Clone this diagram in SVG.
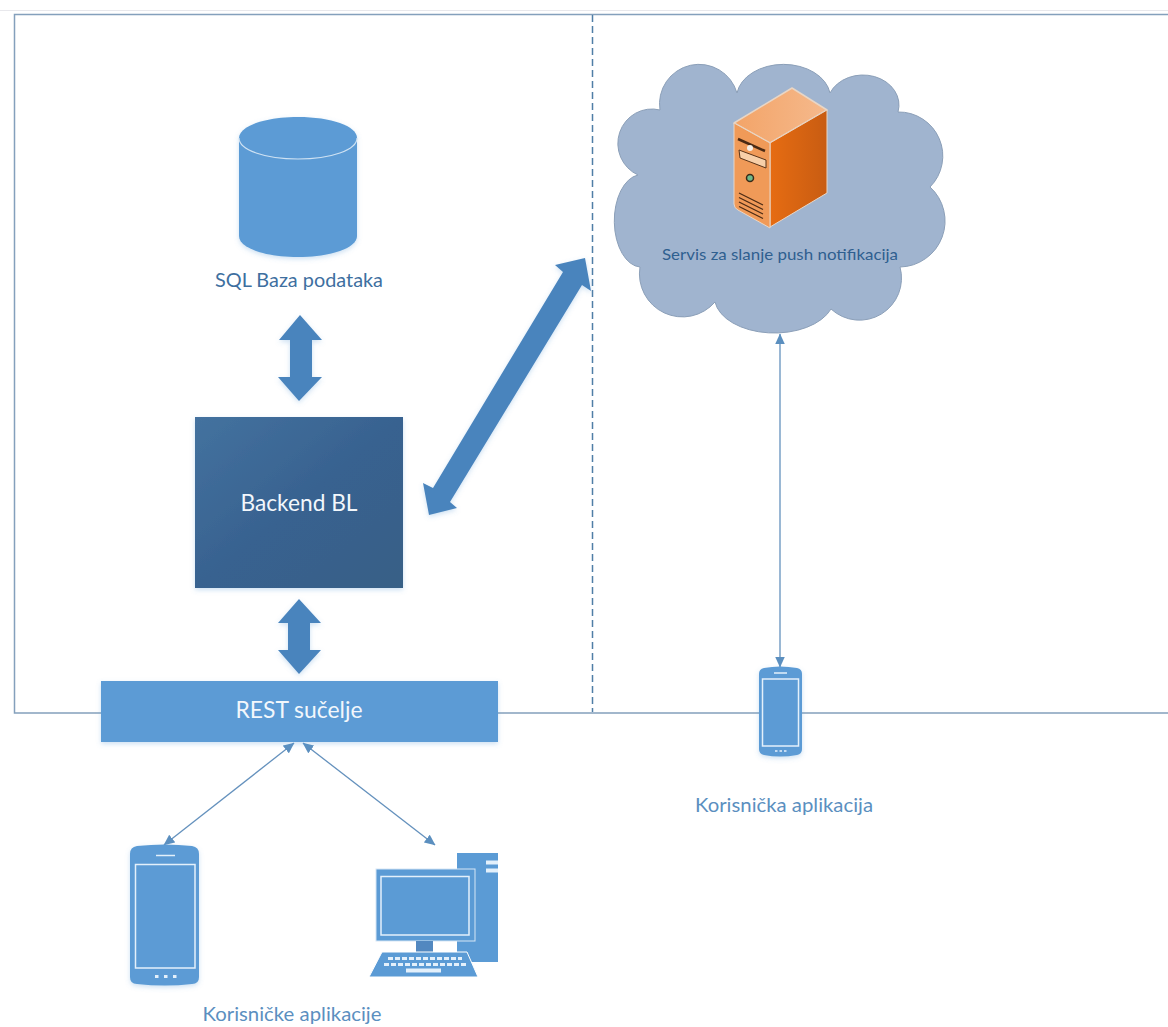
<svg xmlns="http://www.w3.org/2000/svg" width="1168" height="1027" viewBox="0 0 1168 1027">
<defs>
<style>
text{font-family:"Lato","Noto Sans","Liberation Sans",sans-serif;text-anchor:middle}
.lbl{fill:#5b8fbf;font-size:19px}
.wh{fill:#f2f7fc;font-size:23px}
.dev{fill:#5b9bd5}
.ln{fill:none;stroke:#e3f0fb;stroke-width:1.5}
.thin{stroke:#6491bd;stroke-width:1.3;fill:none;marker-start:url(#ah);marker-end:url(#ah)}
.big{fill:#4a84bd;filter:url(#sh)}
</style>
<marker id="ah" viewBox="0 0 10 10" refX="9.5" refY="5" markerWidth="11" markerHeight="11" markerUnits="userSpaceOnUse" orient="auto-start-reverse"><path d="M0,0.5L10,5L0,9.5z" fill="#5b8fbf"/></marker>
<linearGradient id="bl" x1="0" y1="0" x2="1" y2="1"><stop offset="0" stop-color="#44729f"/><stop offset="0.5" stop-color="#386290"/><stop offset="1" stop-color="#386086"/></linearGradient>
<linearGradient id="rf" x1="0" y1="0" x2="1" y2="0"><stop offset="0" stop-color="#e66c12"/><stop offset="1" stop-color="#c85c12"/></linearGradient>
<linearGradient id="tf" x1="0" y1="0" x2="1" y2="0"><stop offset="0" stop-color="#f3a468"/><stop offset="1" stop-color="#f5b98c"/></linearGradient>
<filter id="sh" x="-15%" y="-15%" width="130%" height="130%"><feDropShadow dx="0" dy="2" stdDeviation="2.5" flood-color="#5b9bd5" flood-opacity="0.3"/></filter>
</defs>
<rect width="1168" height="1027" fill="#fff"/>
<path d="M0,10.500H1168" stroke="#e8e8ec" stroke-width="1"/>
<g id="frame">
<path d="M1168,14.500H14.500V713H1168" fill="none" stroke="#84a0bc" stroke-width="1.500"/>
<path d="M592.500,15V712" fill="none" stroke="#4f7ea6" stroke-width="1.500" stroke-dasharray="7 4"/>
</g>
<g id="connectors">
<path class="thin" d="M780,334V667"/>
<path class="thin" d="M294,743L164,845"/>
<path class="thin" d="M303,743L435,845"/>
<polygon class="big" points="300,315 322,340 312,340 312,377 322,377 299,401 278,377 290,377 290,340 279,340"/>
<polygon class="big" points="299,599 321,623 310,623 310,650 321,650 299,674 278,650 288,650 288,623 278,623"/>
<polygon class="big" points="585,258 591,291 582,285 450,502 457,508 429,515 423,483 433,488 563,272 555,265"/>
</g>
<g id="db">
<path d="M239,138C239,126 265,117 298,117C331,117 357,126 357,138V236C357,248 331,257 298,257C265,257 239,248 239,236z" fill="#5b9bd5" filter="url(#sh)"/>
<path d="M239,138C239,150 265,159 298,159C331,159 357,150 357,138" fill="none" stroke="#cfe2f3" stroke-width="1.200"/>
<text x="299" y="287" style="fill:#3e6f9f;font-size:19px" textLength="168" lengthAdjust="spacingAndGlyphs">SQL Baza podataka</text>
</g>
<g id="backend">
<rect x="195" y="417" width="208" height="171" fill="url(#bl)" filter="url(#sh)"/>
<text x="299" y="511" class="wh" textLength="117" lengthAdjust="spacingAndGlyphs">Backend BL</text>
</g>
<g id="rest">
<rect x="101" y="681" width="397" height="61" fill="#5b9bd5" filter="url(#sh)"/>
<text x="299" y="718" class="wh" textLength="127" lengthAdjust="spacingAndGlyphs">REST sučelje</text>
</g>
<g id="cloud">
<path d="M737,93A47,33.500 0 0 1 830,93A36,30 0 0 1 898,112A44,44 0 0 1 930,187A46,46 0 0 1 900,267A42,42 0 0 1 831,309A60,36 0 0 1 715,302A43,43 0 0 1 640,267A27,46.200 0 0 1 638,175A34,34.500 0 0 1 660,110A39.500,39.500 0 0 1 737,93z" fill="#a0b4cf" stroke="#8b9fb8" stroke-width="1"/>
<polygon points="734,123 792,88 827,110 770,143" fill="url(#tf)" stroke="#e8d6c6" stroke-width="1.500" stroke-linejoin="round"/>
<polygon points="770,143 827,110 827,193 770,227" fill="url(#rf)" stroke="#e8d6c6" stroke-width="1"/>
<path d="M734,123L770,143V228L738,210Q734,208 734,204z" fill="#f09a58" stroke="#e8d6c6" stroke-width="1"/>
<path d="M738,139L765,151" stroke="#4a2a14" stroke-width="2.500" fill="none"/>
<path d="M739,150L766,160V168L740,158z" fill="#f7cfa8" stroke="#5a3418" stroke-width="1"/>
<circle cx="750" cy="148" r="3" fill="#f4efe8"/>
<circle cx="750" cy="178" r="3.500" fill="#6fb98a" stroke="#3a2a18" stroke-width="1.500"/>
<path d="M739,193L763,205M739,197.500L763,209.500M739,202L763,214M739,206.500L763,218.500" stroke="#4a2a14" stroke-width="1.200" fill="none"/>
<text x="780" y="260" style="fill:#2f5f8f;font-size:16px" textLength="236" lengthAdjust="spacingAndGlyphs">Servis za slanje push notifikacija</text>
</g>
<g id="phone-right">
<path d="M759,674Q759,669 764,668Q780,665 797,668Q802,669 802,674V749Q802,754 797,755Q780,758 764,755Q759,754 759,749z" class="dev" filter="url(#sh)"/>
<rect x="762.500" y="679" width="36" height="67" class="ln"/>
<path d="M774,673H787" class="ln"/>
<path d="M775,751h2.500M779.500,751h2.500M784,751h2.500" class="ln" stroke-width="2"/>
<text x="784" y="812" class="lbl" textLength="178" lengthAdjust="spacingAndGlyphs">Korisnička aplikacija</text>
</g>
<g id="phone-left">
<path d="M130,854Q130,847 137,846Q165,843 192,846Q199,847 199,854V977Q199,984 192,984Q165,987 137,984Q130,984 130,977z" class="dev" filter="url(#sh)"/>
<rect x="135.500" y="864.500" width="59.500" height="103.500" class="ln"/>
<path d="M156,855.500H175" class="ln"/>
<path d="M155,976.500h3.500M164,976.500h3.500M173,976.500h3.500" fill="none" stroke="#e3f0fb" stroke-width="3"/>
</g>
<g id="computer">
<rect x="457" y="853" width="41" height="109" class="dev"/>
<path d="M486,862.500H498M486,870.500H498" stroke="#e3f0fb" stroke-width="4"/>
<rect x="376" y="869" width="99" height="72" class="dev" stroke="#d6e6f5" stroke-width="1"/>
<rect x="381" y="876.500" width="88" height="58.500" class="ln"/>
<rect x="416" y="941" width="17" height="11" fill="#5288c0"/>
<polygon points="382,952 467,952 478,977 369,977" class="dev" stroke="#fff" stroke-width="1"/>
<path d="M388,958.500H462M384,964.500H467" stroke="#e3f0fb" stroke-width="3" stroke-dasharray="5 2" fill="none"/>
<path d="M406,970.500H441" stroke="#e3f0fb" stroke-width="4" fill="none"/>
<text x="292" y="1021" class="lbl" textLength="179" lengthAdjust="spacingAndGlyphs">Korisničke aplikacije</text>
</g>
</svg>
